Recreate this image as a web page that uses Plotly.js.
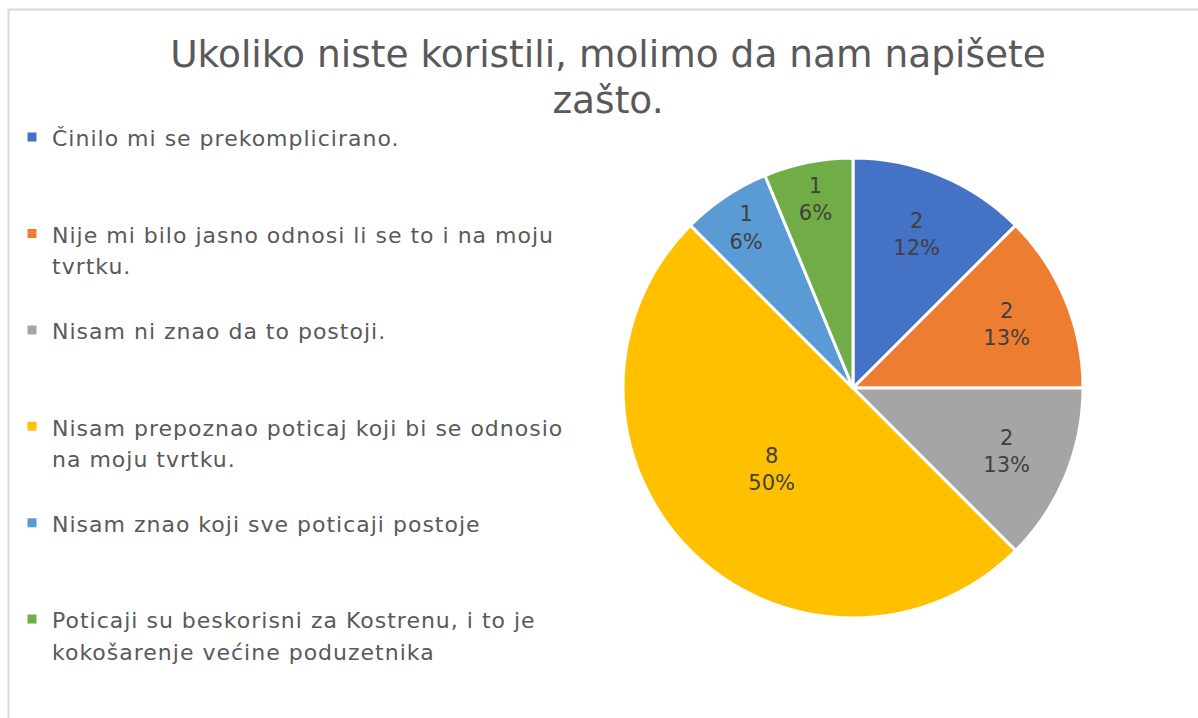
<!DOCTYPE html>
<html>
<head>
<meta charset="utf-8">
<script src="https://cdn.plot.ly/plotly-3.0.1.min.js"></script>
<style>
  html, body { margin: 0; padding: 0; background: #ffffff; }
  #chart { width: 1198px; height: 718px; }
</style>
</head>
<body>
<div id="chart"></div>
<script>
// ---- data ----
const categories = [
  'Činilo mi se prekomplicirano.',
  'Nije mi bilo jasno odnosi li se to i na moju<br>tvrtku.',
  'Nisam ni znao da to postoji.',
  'Nisam prepoznao poticaj koji bi se odnosio<br>na moju tvrtku.',
  'Nisam znao koji sve poticaji postoje',
  'Poticaji su beskorisni za Kostrenu, i to je<br>kokošarenje većine poduzetnika'
];
const counts = [2, 2, 2, 8, 1, 1];
const pctLabels = ['12%', '13%', '13%', '50%', '6%', '6%'];
const colors = ['#4472C4', '#ED7D31', '#A5A5A5', '#FFC000', '#5B9BD5', '#70AD47'];
const titleLines = ['Ukoliko niste koristili, molimo da nam napišete', 'zašto.'];

// ---- layout helpers ----
const W = 1198, H = 718;
const FONT = '"DejaVu Sans", "Open Sans", sans-serif';
const legendLines = 3;
const legendGlyph = 'font-size:22px;letter-spacing:1px';
const titleGlyph = 'font-size:37.5px';

const legendLabels = categories.map(c => {
  const lines = c.split('<br>');
  while (lines.length < legendLines) lines.push('\u00a0');
  return lines.map(l => '<span style="' + legendGlyph + '">' + l + '</span>').join('<br>');
});
const titleText = titleLines.map(l => '<span style="' + titleGlyph + '">' + l + '</span>').join('<br>');

const cx = 853, cy = 388, r = 230;

const trace = {
  type: 'pie',
  values: counts,
  labels: legendLabels,
  text: pctLabels,
  texttemplate: '%{value}<br>%{text}',
  textposition: 'inside',
  insidetextorientation: 'horizontal',
  insidetextfont: { family: FONT, size: 21, color: '#404040' },
  sort: false,
  direction: 'clockwise',
  rotation: 0,
  marker: { colors: colors, line: { color: '#ffffff', width: 3 } },
  domain: {
    x: [(cx - r) / W, (cx + r) / W],
    y: [1 - (cy + r) / H, 1 - (cy - r) / H]
  },
  hoverinfo: 'none'
};

const layout = {
  width: W,
  height: H,
  margin: { l: 0, r: 0, t: 0, b: 0 },
  paper_bgcolor: '#ffffff',
  font: { family: FONT, color: '#595959' },
  title: {
    text: titleText,
    font: { family: FONT, size: 35.4, color: '#595959' },
    x: 608 / W,
    xanchor: 'center',
    xref: 'container',
    y: 1 - 67 / H,
    yanchor: 'top',
    yref: 'container'
  },
  showlegend: true,
  legend: {
    x: 12 / W,
    xanchor: 'left',
    y: 1 - 115 / H,
    yanchor: 'top',
    valign: 'top',
    font: { family: FONT, size: 23.95, color: '#595959' },
    bgcolor: 'rgba(0,0,0,0)',
    traceorder: 'normal'
  },
  shapes: [
    { type: 'line', xref: 'paper', yref: 'paper', x0: 8.5 / W, x1: 8.5 / W, y0: 0, y1: 1 - 9 / H,
      line: { color: '#d9d9d9', width: 2 }, layer: 'below' },
    { type: 'line', xref: 'paper', yref: 'paper', x0: 8.5 / W, x1: 1, y0: 1 - 9.5 / H, y1: 1 - 9.5 / H,
      line: { color: '#d9d9d9', width: 2 }, layer: 'below' }
  ]
};

Plotly.newPlot('chart', [trace], layout, { displayModeBar: false, staticPlot: true });
</script>
</body>
</html>
